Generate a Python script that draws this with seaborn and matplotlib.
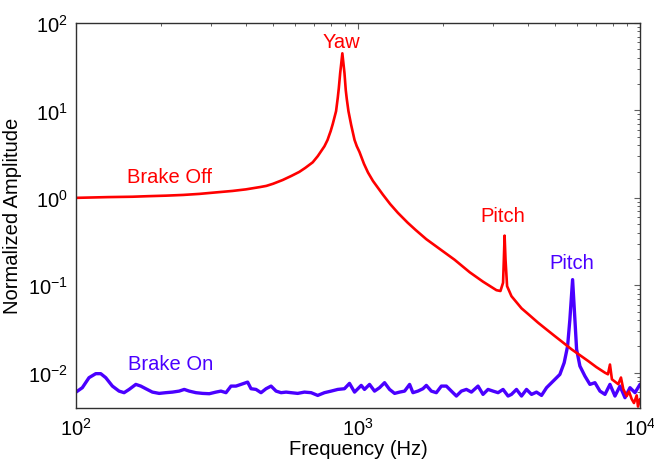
import matplotlib
matplotlib.use("Agg")
import matplotlib.pyplot as plt
import numpy as np
import pandas as pd
import seaborn as sns

# ---- data ----
off_freq = [100, 130, 158.5, 180, 209, 240, 274, 300, 359, 400, 450, 473, 500, 540.6, 580,
            619, 650, 690.9, 720, 760.3, 780, 792, 800, 813.8, 825, 836, 847.8, 855, 864.6,
            870, 880, 895.4, 905, 912.5, 925, 945.9, 972, 990, 1012, 1050, 1085, 1130,
            1225, 1300, 1385, 1500, 1600, 1746, 2000, 2200, 2489, 2775, 3097, 3200, 3269,
            3290, 3310, 3335, 3378, 3501, 3801, 4000, 4352, 4600, 4990, 5300, 5721, 6100,
            6551, 7000, 7512, 7697, 7825, 7952, 8373, 8560, 8724, 8970, 9141, 9343, 9521,
            9734, 9838, 10000]
off_amp = [1.00, 1.02, 1.03, 1.045, 1.06, 1.08, 1.11, 1.14, 1.20, 1.25, 1.33, 1.37, 1.45,
           1.60, 1.78, 1.98, 2.2, 2.55, 3.0, 3.89, 4.6, 5.3, 5.8, 7.0, 8.3, 9.8, 14.0, 18.0,
           26.8, 32.0, 45.0, 26.8, 17.0, 13.5, 9.8, 6.8, 4.6, 3.9, 3.35, 2.45, 1.95, 1.56,
           1.09, 0.85, 0.674, 0.52, 0.43, 0.337, 0.245, 0.196, 0.141, 0.110, 0.0879,
           0.086, 0.107, 0.197, 0.37, 0.197, 0.0977, 0.075, 0.0545, 0.0473, 0.0373,
           0.0323, 0.0262, 0.0225, 0.0185, 0.0160, 0.0136, 0.0116, 0.0100, 0.0096, 0.0124,
           0.0084, 0.0074, 0.0088, 0.0065, 0.0054, 0.0061, 0.0050, 0.0045, 0.0055, 0.0041,
           0.0050]

on_freq = [100, 105.3, 111.2, 117.5, 122.4, 127.5, 134.6, 142.1, 148.1, 154.3, 163.0,
           169.7, 176.8, 186.6, 197.2, 208.3, 219.8, 232.2, 242.0, 252.0, 266.2, 281.0,
           296.9, 313.5, 326.6, 340.3, 354.5, 369.3, 384.6, 406.1, 417.5, 434.8, 453.0,
           472.0, 491.7, 512.2, 533.6, 555.9, 579.1, 611.2, 645.7, 682.0, 719.7, 760.3,
           803.2, 847.8, 895.4, 932.9, 972.3, 1026.6, 1054.6, 1098.8, 1144.6, 1192.5,
           1242.2, 1294.1, 1348.3, 1404.5, 1463.1, 1524.0, 1565.9, 1631.1, 1699.2, 1747.2,
           1819.7, 1895.8, 1975.0, 2057.4, 2143.4, 2233.0, 2326.0, 2423.3, 2524.3, 2664.6,
           2775.4, 2891.3, 3012.3, 3138.0, 3268.7, 3405.2, 3500.7, 3647.5, 3800.6, 3958.8,
           4124.5, 4295.4, 4475.0, 4662.5, 4789.8, 4990.3, 5198.2, 5384.3, 5536.6, 5640.8,
           5766.9, 5876.8, 5958.6, 6122.5, 6377.5, 6644.0, 6921.9, 7211.0, 7512.3, 7824.6,
           8151.4, 8491.8, 8845.6, 9215.0, 9598.3, 10000]
on_amp = [0.0060, 0.00674, 0.00877, 0.00975, 0.00975, 0.00877, 0.00703, 0.00616, 0.00591,
          0.00644, 0.00735, 0.00703, 0.00656, 0.0060, 0.0058, 0.00591, 0.0060, 0.00616,
          0.00644, 0.00616, 0.00591, 0.0058, 0.00575, 0.0060, 0.00616, 0.00591, 0.00703,
          0.00703, 0.00735, 0.00781, 0.00656, 0.00644, 0.00591, 0.00656, 0.00703, 0.00616,
          0.00591, 0.0060, 0.00591, 0.0058, 0.0060, 0.00591, 0.0055, 0.00591, 0.00616,
          0.00644, 0.00656, 0.00755, 0.0060, 0.00716, 0.00644, 0.00735, 0.00616, 0.00674,
          0.00769, 0.00644, 0.0058, 0.0060, 0.00616, 0.00735, 0.00591, 0.00616, 0.00656,
          0.00716, 0.00616, 0.00591, 0.00703, 0.00703, 0.00616, 0.00541, 0.00616, 0.00644,
          0.0060, 0.00703, 0.00565, 0.00644, 0.00616, 0.00591, 0.00644, 0.00541, 0.00565,
          0.00644, 0.00541, 0.00644, 0.00565, 0.0060, 0.0055, 0.00674, 0.00735, 0.00838,
          0.00956, 0.0130, 0.0201, 0.0406, 0.116, 0.0406, 0.0185, 0.0119, 0.00915, 0.00735,
          0.00769, 0.00616, 0.00565, 0.00735, 0.00541, 0.00703, 0.00518, 0.00674, 0.00591,
          0.00735]

x_limits = [100, 10000]
y_limits = [0.004, 100]
labels = ["Yaw", "Brake Off", "Pitch", "Pitch", "Brake On"]
label_pos = [(871, 61.6), (214, 1.77), (3269, 0.628), (5721, 0.181), (217, 0.01276)]
label_col = ["#ff0000", "#ff0000", "#ff0000", "#4a00ff", "#4a00ff"]

# ---- style ----
sns.set_theme(style="white")
plt.rcParams["font.family"] = ["Liberation Sans", "DejaVu Sans"]
plt.rcParams["mathtext.fontset"] = "custom"
plt.rcParams["mathtext.rm"] = "Liberation Sans"
plt.rcParams["mathtext.it"] = "Liberation Sans:italic"
plt.rcParams["mathtext.bf"] = "Liberation Sans:bold"
plt.rcParams["text.color"] = "black"
plt.rcParams["axes.labelcolor"] = "black"
plt.rcParams["xtick.color"] = "black"
plt.rcParams["ytick.color"] = "black"

fig = plt.figure(figsize=(6.54, 4.64), dpi=100)
ax = fig.add_axes([76 / 654, 1 - 408.5 / 464, (640 - 76) / 654, (408.5 - 24) / 464])

df_on = pd.DataFrame({"Frequency": on_freq, "Amplitude": on_amp})
df_off = pd.DataFrame({"Frequency": off_freq, "Amplitude": off_amp})
sns.lineplot(data=df_on, x="Frequency", y="Amplitude", color="#4a00ff", lw=2.4,
             estimator=None, sort=False, ax=ax)
sns.lineplot(data=df_off, x="Frequency", y="Amplitude", color="#ff0000", lw=1.9,
             estimator=None, sort=False, ax=ax)

ax.set_xscale("log")
ax.set_yscale("log")
ax.set_xlim(*x_limits)
ax.set_ylim(*y_limits)

for txt, (fx, fy), c in zip(labels, label_pos, label_col):
    ax.text(fx, fy, txt, color=c, ha="center", va="center", fontsize=14.5)

ax.set_xlabel("Frequency (Hz)", fontsize=14.5, labelpad=0, color="black")
ax.set_ylabel("Normalized Amplitude", fontsize=14.5, labelpad=4, color="black")

for s in ax.spines.values():
    s.set_color("#303030")
    s.set_linewidth(1.0)
ax.tick_params(which="both", direction="in", top=True, right=True, color="#606060",
               labelcolor="black", labelsize=14.5)
ax.tick_params(which="major", length=4, width=0.8)
ax.tick_params(which="minor", length=2.5, width=0.7)
ax.tick_params(axis="x", which="both", pad=7)
ax.tick_params(axis="y", which="both", pad=6)

fig.savefig("out.png", dpi=100)
